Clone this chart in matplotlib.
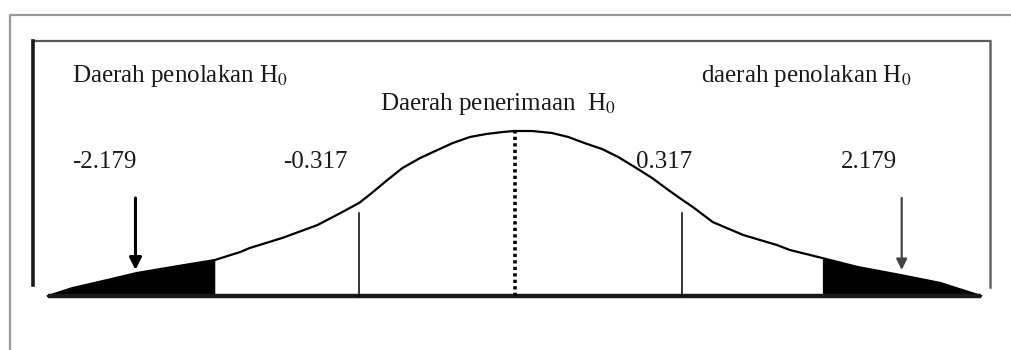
import numpy as np
import matplotlib.pyplot as plt
from matplotlib.lines import Line2D

plt.rcParams['font.family'] = ['Liberation Serif', 'DejaVu Serif']
plt.rcParams['mathtext.fontset'] = 'stix'

# curve: position (t scale, schematic) and relative height
curve_z = [-4.00, -3.79, -3.49, -3.24, -2.93, -2.57, -2.35, -2.27, -1.99, -1.69,
           -1.50, -1.33, -1.24, -1.09, -0.96, -0.81, -0.66, -0.53, -0.38, -0.24,
           -0.10, 0.00, 0.15, 0.32, 0.46, 0.60, 0.75, 0.89, 1.03, 1.18,
           1.32, 1.44, 1.53, 1.70, 1.96, 2.25, 2.36, 2.64, 2.94, 3.31,
           3.65, 4.00]
curve_h = [0.000, 0.048, 0.097, 0.139, 0.176, 0.218, 0.267, 0.291, 0.352, 0.430,
           0.500, 0.565, 0.615, 0.703, 0.776, 0.836, 0.885, 0.927, 0.964, 0.982,
           0.994, 1.000, 1.000, 0.988, 0.964, 0.927, 0.891, 0.842, 0.782, 0.715,
           0.642, 0.582, 0.539, 0.448, 0.370, 0.309, 0.279, 0.230, 0.176, 0.127,
           0.079, 0.000]

reject_left = -2.57
reject_right = 2.64
crit_lines = [-1.33, 1.44]
crit_line_h = 0.503
arrow_z = [-3.25, 3.32]
crit_labels = ["-2.179", "-0.317", "0.317", "2.179"]
crit_label_z = [-3.79, -1.985, 1.042, 2.80]

W, H = 1012, 350
fig = plt.figure(figsize=(W/100, H/100), dpi=100)
ax = fig.add_axes([0, 0, 1, 1])

# map the curve onto the picture: z=-4..4 -> px 48..981, h=0..1 -> py 296..131
sx = (981 - 48) / 8.0
sy = 165.0
x0 = -4 - 48/sx
ax.set_xlim(x0, x0 + W/sx)
ax.set_ylim(-(H - 296)/sy, 296/sy)
ax.axis("off")


def fig_line(xs, ys, **kw):
    # frame lines given in pixels of the picture
    fig.add_artist(Line2D([x/W for x in xs], [1 - y/H for y in ys],
                          transform=fig.transFigure, **kw))


# outer box and inner box
fig_line([10, 10, 1012], [350, 15, 15], color="#9a9a9a", lw=1.6)
fig_line([33, 990], [41, 41], color="#5a5a5a", lw=1.6)
fig_line([33, 33], [41, 285], color="#1a1a1a", lw=2.6)
fig_line([990, 990], [41, 287], color="#666666", lw=1.8)

z = np.array(curve_z)
h = np.array(curve_h)

ax.fill_between(z, h, 0, where=z <= reject_left, color="black", lw=0)
ax.fill_between(z, h, 0, where=z >= reject_right, color="black", lw=0)
ax.plot(z, h, color="black", lw=1.6, solid_joinstyle="round")
ax.plot([z.min(), z.max()], [0, 0], color="#1a1a1a", lw=3.2, solid_capstyle="butt")

# center dotted line
ax.plot([0, 0], [0, h.max()], color="black", lw=2.6, linestyle=(0, (0.9, 0.9)))

for c in crit_lines:
    ax.plot([c, c], [0, crit_line_h], color="black", lw=1.1)

ax.annotate("", xy=(arrow_z[0], 0.158), xytext=(arrow_z[0], 0.594),
            arrowprops=dict(arrowstyle="-|>", color="black", lw=2.2,
                            mutation_scale=18, shrinkA=0, shrinkB=0))
ax.annotate("", xy=(arrow_z[1], 0.158), xytext=(arrow_z[1], 0.594),
            arrowprops=dict(arrowstyle="-|>", color="#444444", lw=1.6,
                            mutation_scale=16, shrinkA=0, shrinkB=0))

fs = 18
tc = "#1a1a1a"
ax.text(-3.79, 1.297, "Daerah penolakan H$_0$", fontsize=fs, color=tc, va="baseline")
ax.text(-1.153, 1.127, "Daerah penerimaan  H$_0$", fontsize=fs, color=tc, va="baseline")
ax.text(1.600, 1.297, "daerah penolakan H$_0$", fontsize=fs, color=tc, va="baseline")
for lab, lz in zip(crit_labels, crit_label_z):
    ax.text(lz, 0.776, lab, fontsize=fs, color=tc, va="baseline")

fig.savefig("out.png", dpi=100)
